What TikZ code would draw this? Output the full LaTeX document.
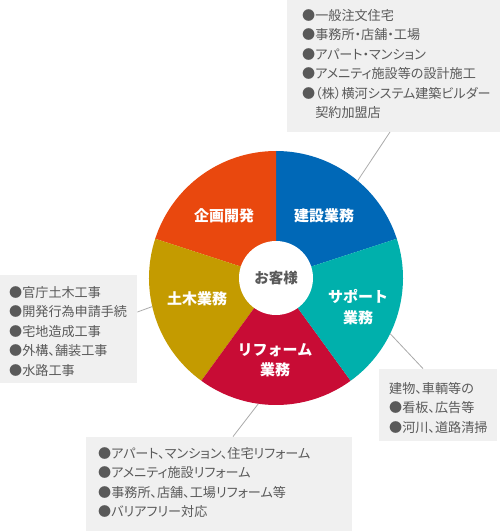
\documentclass[tikz,border=0pt]{standalone}
\usepackage{fontspec}
\setmainfont{Noto Sans CJK JP}
\newfontfamily\paltfont[RawFeature=+palt]{Noto Sans CJK JP}
\usetikzlibrary{positioning,calc}
\definecolor{kenblue}{HTML}{0068B7}
\definecolor{supteal}{HTML}{00B0AC}
\definecolor{refred}{HTML}{C80C35}
\definecolor{dobgold}{HTML}{C49B00}
\definecolor{kikorange}{HTML}{E9480E}
\definecolor{boxgray}{HTML}{F0F0F0}
\definecolor{textgray}{HTML}{595959}
\definecolor{linegray}{HTML}{AAAAAA}

\begin{document}
\begin{tikzpicture}[x=1pt,y=1pt,
  infobox/.style={fill=boxgray, inner sep=0pt, anchor=south west},
  infotext/.style={anchor=north west, inner sep=0pt, align=left, text=textgray,
                   font=\paltfont\fontsize{13.1}{19.5}\selectfont},
  seglabel/.style={text=white, align=center, font=\bfseries\fontsize{15}{20.5}\selectfont},
  leader/.style={draw=linegray, line width=0.8pt}]
  \useasboundingbox (0,0) rectangle (500,531);

  % grey boxes
  \node[infobox, minimum width=213pt, minimum height=132pt] (b1) at (287,399) {};
  \node[infobox, minimum width=137pt, minimum height=108pt] (b2) at (0,148) {};
  \node[infobox, minimum width=118pt, minimum height=72pt] (b3) at (379,90) {};
  \node[infobox, minimum width=266pt, minimum height=94pt] (b4) at (86,0) {};

  \node[infotext] (t1) at (302,522) {●一般注文住宅\\●事務所・店舗・工場\\●アパート・マンション\\●アメニティ施設等の設計施工\\●（株）横河システム建築ビルダー\\\hspace*{1em}契約加盟店};
  \node[infotext] (t2) at (9,245) {●官庁土木工事\\●開発行為申請手続\\●宅地造成工事\\●外構、舗装工事\\●水路工事};
  \node[infotext] (t3) at (389,149) {建物、車輌等の\\●看板、広告等\\●河川、道路清掃};
  \node[infotext] (t4) at (98,84) {●アパート、マンション、住宅リフォーム\\●アメニティ施設リフォーム\\●事務所、店舗、工場リフォーム等\\●バリアフリー対応};

  % ring
  \coordinate (c) at (276,253);
  \def\rr{127}
  \fill[kenblue] (c) -- ++(18:\rr) arc[start angle=18, end angle=90, radius=\rr] -- cycle;
  \fill[kikorange] (c) -- ++(90:\rr) arc[start angle=90, end angle=162, radius=\rr] -- cycle;
  \fill[dobgold] (c) -- ++(162:\rr) arc[start angle=162, end angle=234, radius=\rr] -- cycle;
  \fill[refred] (c) -- ++(234:\rr) arc[start angle=234, end angle=306, radius=\rr] -- cycle;
  \fill[supteal] (c) -- ++(306:\rr) arc[start angle=306, end angle=378, radius=\rr] -- cycle;

  \node[circle, fill=white, minimum size=74pt, inner sep=0pt, text=textgray,
        font=\bfseries\fontsize{14.5}{17}\selectfont] (cust) at (c) {お客様};

  \node[seglabel] (kensetsu) at (324,315) {建設業務};
  \node[seglabel] (kikaku) at (224,315) {企画開発};
  \node[seglabel] (doboku) at (197,232) {土木業務};
  \node[seglabel] (support) at (358,224) {サポート\\業務};
  \node[seglabel] (reform) at (275,171) {リフォーム\\業務};

  % leaders
  \coordinate (p1) at ($(c)+(50:\rr)$);
  \coordinate (p2) at ($(c)+(193:\rr)$);
  \coordinate (p3) at ($(c)+(-26:\rr)$);
  \coordinate (p4) at ($(c)+(-98:\rr)$);
  \draw[leader] (p1) -- ($(b1.south west)+(103,0)$);
  \draw[leader] (p2) -- ($(b2.south east)+(0,71)$);
  \draw[leader] (p3) -- ($(b3.north west)+(44,0)$);
  \draw[leader] (p4) -- ($(b4.north west)+(147,0)$);
\end{tikzpicture}
\end{document}
